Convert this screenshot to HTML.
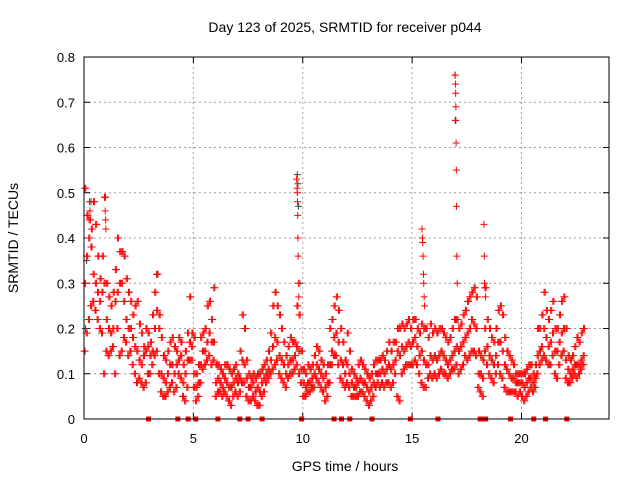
<!DOCTYPE html>
<html><head><meta charset="utf-8"><style>
body{margin:0;background:#fff}
svg{display:block;font-family:"Liberation Sans",sans-serif}
</style></head><body>
<svg id="chart" width="640" height="480" viewBox="0 0 640 480" xmlns="http://www.w3.org/2000/svg">
<rect width="640" height="480" fill="#fff"/>
<text x="345" y="32" font-size="14" text-anchor="middle">Day 123 of 2025, SRMTID for receiver p044</text>
<text x="345" y="471" font-size="14" text-anchor="middle">GPS time / hours</text>
<text x="18" y="238" font-size="14" text-anchor="middle" transform="rotate(-90 18 238)">SRMTID / TECUs</text>
<g id="grid"></g><g id="ticks"></g><g id="marks"></g>
<rect x="84" y="57" width="525" height="362" fill="none" stroke="#000" stroke-width="1"/>
</svg>
<script>
const xTicks=[0,5,10,15,20];
const yTicks=[0,0.1,0.2,0.3,0.4,0.5,0.6,0.7,0.8];
const yTickLabels=["0","0.1","0.2","0.3","0.4","0.5","0.6","0.7","0.8"];
const binStart=0, binStep=0.1;
const hiVals=[0.51,0.45,0.44,0.42,0.48,0.43,0.36,0.31,0.36,0.49,0.30,0.27,0.25,0.28,0.33,0.40,0.37,0.37,0.36,0.31,0.28,0.26,0.23,0.25,0.26,0.21,0.19,0.16,0.2,0.19,0.17,0.23,0.28,0.32,0.23,0.18,0.14,0.13,0.15,0.17,0.18,0.16,0.15,0.18,0.17,0.12,0.15,0.19,0.27,0.19,0.18,0.1,0.12,0.18,0.19,0.2,0.25,0.26,0.22,0.29,0.12,0.12,0.11,0.1,0.12,0.12,0.11,0.1,0.11,0.12,0.1,0.15,0.23,0.2,0.13,0.1,0.09,0.1,0.09,0.1,0.1,0.11,0.12,0.13,0.15,0.19,0.25,0.28,0.25,0.23,0.2,0.17,0.14,0.16,0.18,0.17,0.17,0.25,0.23,0.15,0.11,0.1,0.12,0.11,0.12,0.14,0.16,0.15,0.13,0.12,0.1,0.12,0.2,0.22,0.25,0.27,0.24,0.2,0.17,0.13,0.19,0.15,0.11,0.1,0.09,0.12,0.13,0.12,0.11,0.1,0.09,0.1,0.12,0.13,0.13,0.13,0.14,0.13,0.15,0.17,0.15,0.17,0.17,0.2,0.2,0.21,0.2,0.21,0.22,0.2,0.22,0.22,0.2,0.19,0.21,0.2,0.2,0.18,0.21,0.19,0.2,0.19,0.2,0.2,0.19,0.18,0.17,0.18,0.2,0.22,0.22,0.2,0.21,0.23,0.24,0.26,0.27,0.28,0.29,0.27,0.15,0.14,0.13,0.29,0.22,0.2,0.18,0.17,0.2,0.24,0.25,0.23,0.18,0.15,0.14,0.13,0.12,0.1,0.1,0.1,0.1,0.1,0.11,0.12,0.12,0.1,0.12,0.2,0.2,0.23,0.28,0.24,0.22,0.24,0.26,0.2,0.2,0.23,0.26,0.27,0.2,0.14,0.13,0.14,0.16,0.18,0.17,0.19,0.2];
const midVals=[0.3,0.36,0.4,0.38,0.32,0.3,0.28,0.26,0.28,0.3,0.22,0.2,0.19,0.2,0.26,0.28,0.3,0.3,0.26,0.22,0.2,0.2,0.18,0.16,0.15,0.13,0.12,0.14,0.15,0.16,0.14,0.15,0.2,0.24,0.2,0.1,0.09,0.08,0.1,0.12,0.12,0.1,0.12,0.13,0.14,0.08,0.1,0.13,0.17,0.16,0.1,0.07,0.08,0.12,0.15,0.15,0.17,0.19,0.17,0.17,0.08,0.09,0.08,0.07,0.09,0.08,0.07,0.07,0.08,0.09,0.08,0.09,0.13,0.12,0.09,0.07,0.07,0.08,0.06,0.07,0.06,0.08,0.09,0.1,0.11,0.13,0.16,0.18,0.17,0.14,0.13,0.12,0.1,0.12,0.13,0.13,0.14,0.16,0.15,0.11,0.08,0.07,0.08,0.08,0.09,0.1,0.12,0.11,0.1,0.09,0.07,0.08,0.12,0.15,0.18,0.19,0.17,0.13,0.12,0.1,0.12,0.1,0.08,0.07,0.07,0.08,0.09,0.08,0.08,0.07,0.06,0.07,0.08,0.1,0.1,0.1,0.11,0.1,0.11,0.12,0.11,0.12,0.13,0.15,0.14,0.16,0.15,0.16,0.17,0.16,0.17,0.18,0.16,0.14,0.15,0.13,0.12,0.12,0.14,0.13,0.14,0.13,0.14,0.15,0.14,0.13,0.12,0.13,0.14,0.15,0.16,0.15,0.16,0.17,0.18,0.19,0.2,0.22,0.21,0.2,0.1,0.1,0.09,0.2,0.16,0.14,0.13,0.12,0.14,0.17,0.17,0.15,0.12,0.11,0.1,0.09,0.09,0.08,0.08,0.08,0.08,0.07,0.08,0.09,0.09,0.08,0.09,0.14,0.15,0.16,0.2,0.18,0.16,0.17,0.19,0.15,0.15,0.17,0.19,0.2,0.13,0.11,0.1,0.11,0.12,0.12,0.12,0.13,0.14];
const loVals=[0.15,0.19,0.22,0.25,0.26,0.24,0.22,0.2,0.19,0.1,0.15,0.14,0.15,0.16,0.1,0.2,0.14,0.15,0.18,0.17,0.14,0.15,0.12,0.1,0.08,0.09,0.08,0.07,0.08,0.1,0.1,0.12,0.14,0.15,0.1,0.06,0.05,0.05,0.06,0.07,0.08,0.06,0.07,0.1,0.09,0.05,0.04,0.07,0.13,0.13,0.07,0.04,0.05,0.08,0.11,0.12,0.13,0.14,0.12,0.13,0.05,0.06,0.06,0.05,0.06,0.05,0.04,0.03,0.05,0.06,0.05,0.06,0.08,0.08,0.05,0.04,0.04,0.05,0.04,0.03,0.03,0.05,0.06,0.08,0.09,0.1,0.11,0.12,0.13,0.1,0.09,0.08,0.07,0.09,0.1,0.1,0.11,0.12,0.1,0.08,0.05,0.05,0.06,0.06,0.07,0.07,0.09,0.08,0.07,0.06,0.04,0.05,0.08,0.12,0.14,0.14,0.12,0.09,0.08,0.07,0.08,0.07,0.05,0.05,0.05,0.05,0.06,0.06,0.05,0.04,0.03,0.04,0.05,0.07,0.08,0.07,0.08,0.07,0.08,0.08,0.07,0.08,0.1,0.05,0.04,0.1,0.11,0.12,0.12,0.12,0.12,0.13,0.12,0.1,0.08,0.07,0.07,0.09,0.1,0.09,0.1,0.09,0.1,0.11,0.1,0.1,0.09,0.1,0.11,0.11,0.12,0.1,0.11,0.12,0.14,0.13,0.14,0.15,0.15,0.14,0.07,0.06,0.05,0.15,0.12,0.1,0.09,0.08,0.1,0.12,0.1,0.09,0.07,0.06,0.06,0.06,0.06,0.06,0.05,0.06,0.05,0.04,0.05,0.06,0.07,0.06,0.07,0.1,0.12,0.13,0.14,0.13,0.12,0.12,0.14,0.1,0.09,0.12,0.14,0.15,0.09,0.08,0.08,0.09,0.1,0.09,0.1,0.11,0.12];
const spikeTimes=[0.25,0.27,0.3,0.95,0.97,0.99,1.0,9.72,9.74,9.75,9.76,9.77,9.78,9.79,9.8,9.82,15.45,15.47,15.48,15.5,15.52,15.53,15.55,15.57,16.96,16.97,16.98,16.99,17.0,17.0,17.01,17.02,17.03,17.04,17.06,18.28,18.3,18.31,18.33,18.35];
const spikeVals=[0.48,0.46,0.44,0.49,0.46,0.44,0.42,0.53,0.51,0.5,0.48,0.45,0.4,0.36,0.3,0.27,0.42,0.4,0.39,0.36,0.32,0.3,0.27,0.25,0.76,0.76,0.74,0.72,0.69,0.66,0.61,0.55,0.47,0.36,0.3,0.43,0.36,0.3,0.29,0.27];
const greyTimes=[0.1,0.3,9.73,9.76,9.79,16.95,17.08,9.85,0.05,3.3];
const greyVals=[0.35,0.48,0.54,0.52,0.47,0.66,0.22,0.3,0.2,0.32];
const gapTimes=[2.95,4.29,4.76,5.11,6.12,7.12,7.5,8.14,9.95,11.43,11.77,12.15,13.17,14.92,16.18,18.11,18.2,18.36,19.5,20.56,21.1,22.07];

const NS="http://www.w3.org/2000/svg";
const X0=84,X1=609,Y0=419,Y1=57;
function xs(t){return X0+(t/24)*(X1-X0);}
function ys(v){return Y0-(v/0.8)*(Y0-Y1);}
function mk(tag,attrs,parent){const e=document.createElementNS(NS,tag);for(const k in attrs)e.setAttribute(k,attrs[k]);parent.appendChild(e);return e;}
const grid=document.getElementById('grid'),ticks=document.getElementById('ticks'),marks=document.getElementById('marks');
xTicks.forEach(t=>{
  const x=xs(t);
  if(t>0){const g=mk('line',{x1:x,x2:x,y1:Y0,y2:Y1,stroke:'#a0a0a0','stroke-dasharray':'2,3'},grid);
  
  }
  mk('line',{x1:x,x2:x,y1:Y0,y2:Y0-6,stroke:'#000'},ticks);
  mk('line',{x1:x,x2:x,y1:Y1,y2:Y1+6,stroke:'#000'},ticks);
  const l=mk('text',{x:x,y:443,'font-size':13,'text-anchor':'middle'},ticks);
  l.textContent=String(t);
  
  
});
yTicks.forEach((v,i)=>{
  const y=ys(v);
  if(v>0&&v<0.8){const g=mk('line',{x1:X0,x2:X1,y1:y,y2:y,stroke:'#a0a0a0','stroke-dasharray':'2,3'},grid);
  
  }
  mk('line',{x1:X0,x2:X0+6,y1:y,y2:y,stroke:'#000'},ticks);
  mk('line',{x1:X1,x2:X1-6,y1:y,y2:y,stroke:'#000'},ticks);
  const l=mk('text',{x:75,y:y+5,'font-size':13,'text-anchor':'end'},ticks);
  l.textContent=yTickLabels[i];
  
  
});
function cross(t,v,color,name){
  const x=xs(t),y=ys(v);
  const p=mk('path',{d:`M${x-3.5},${y}h7M${x},${y-3.5}v7`,stroke:color,'stroke-width':1,fill:'none'},marks);
  
  
}
greyTimes.forEach((t,i)=>cross(t+0.02,greyVals[i],'#404040','grey-point'));
[[loVals,[0,0.05]],[midVals,[0.017,0.067]],[hiVals,[0.033,0.083]]].forEach(([arr,offs])=>{
  arr.forEach((v,i)=>offs.forEach(off=>cross(binStart+i*binStep+off,v,'#ff0000','srmtid-point')));
});
spikeTimes.forEach((t,i)=>cross(t,spikeVals[i],'#ff0000','spike-point'));
gapTimes.forEach(t=>{
  const r=mk('rect',{x:xs(t)-2.5,y:Y0-2.5,width:5,height:5,fill:'#ff0000'},marks);
  
  
});
</script>
</body></html>
